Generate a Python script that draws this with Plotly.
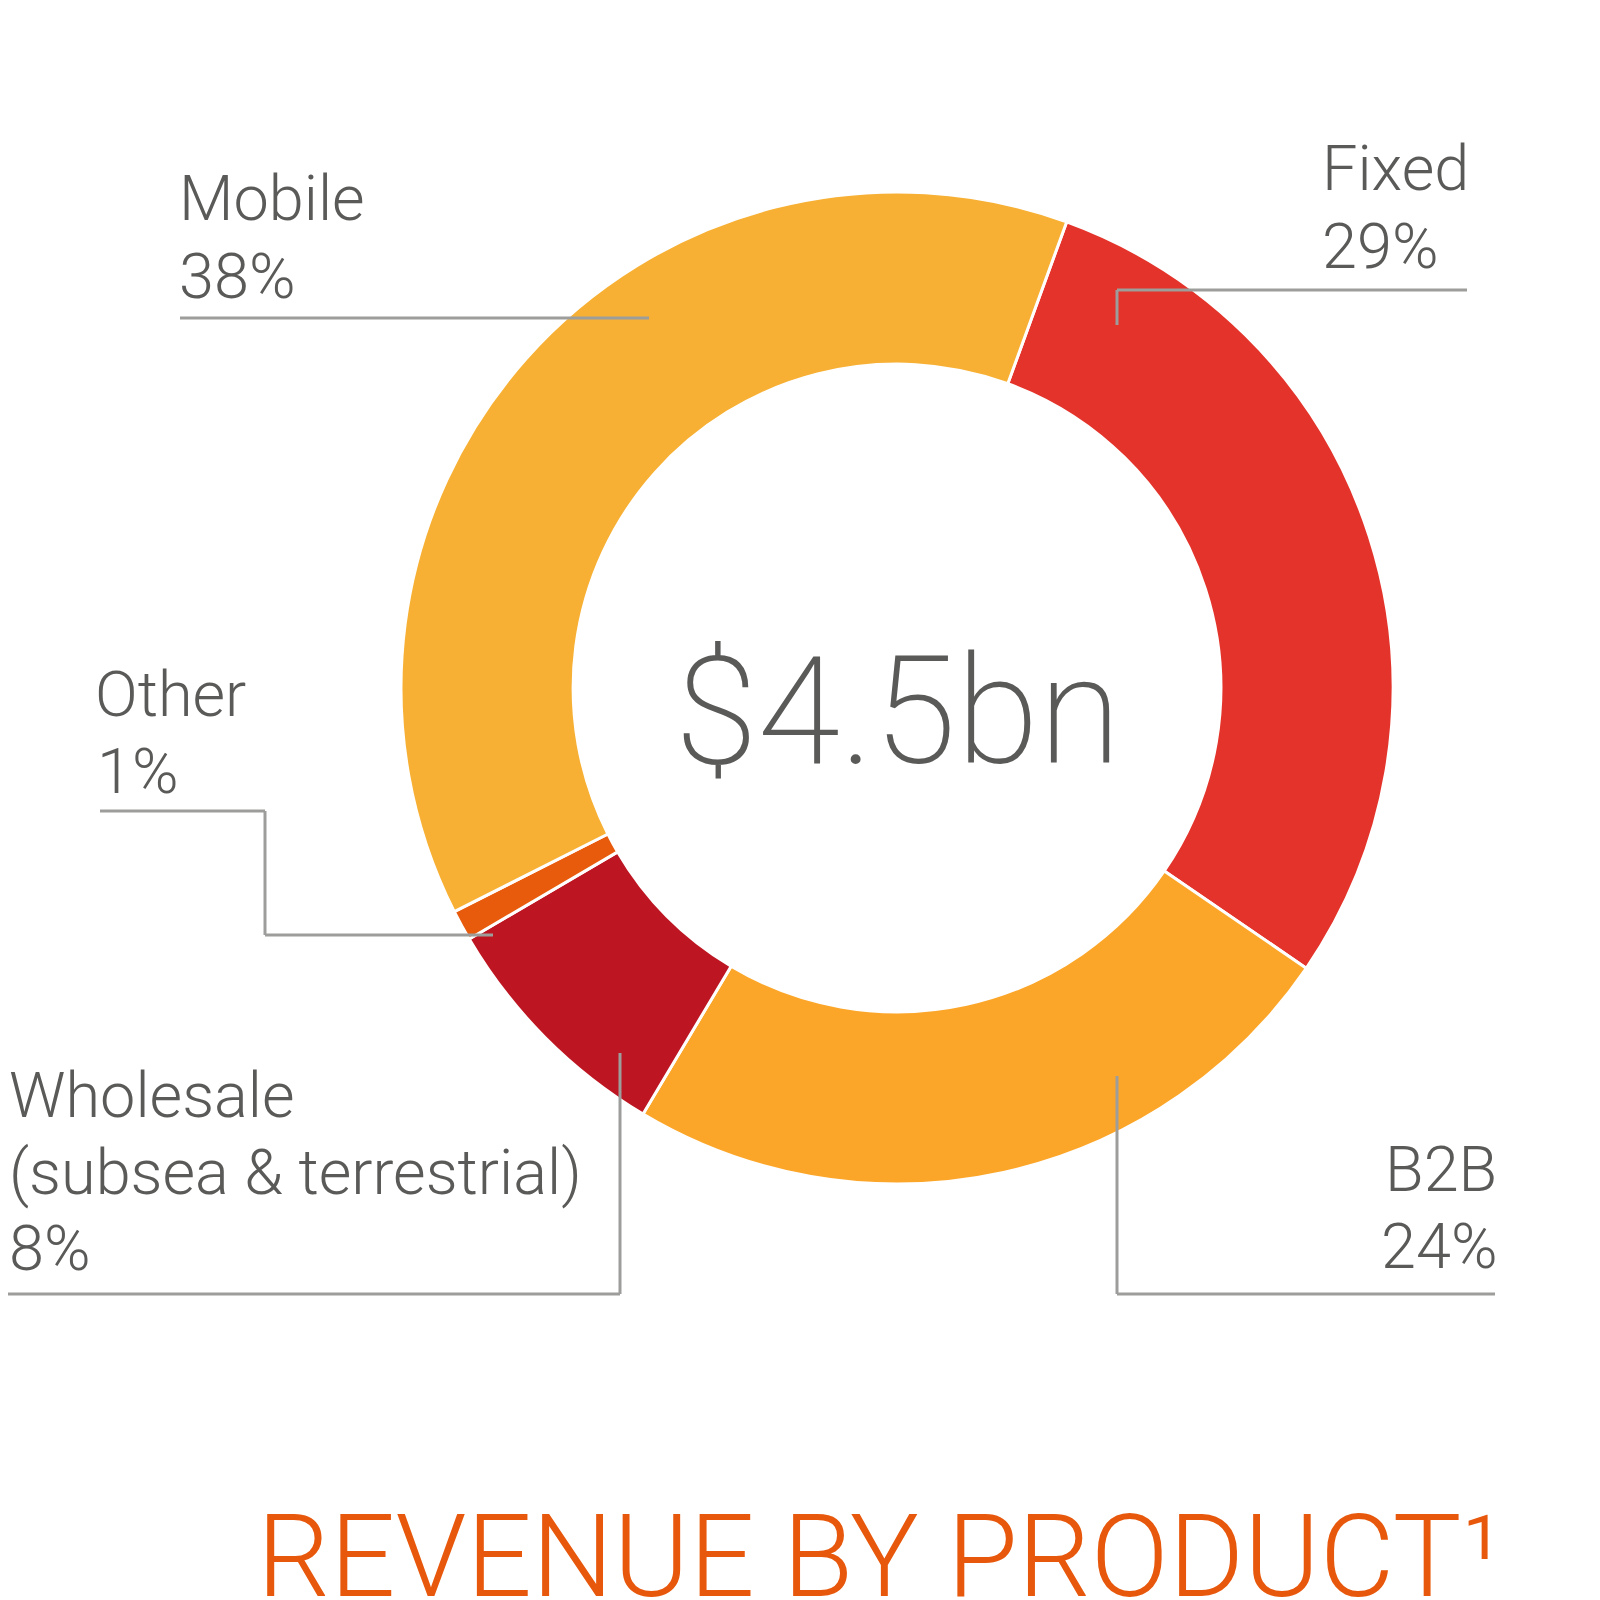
import plotly.graph_objects as go

# slice data, clockwise from the Fixed slice
labels = ["Fixed", "B2B", "Wholesale", "Other", "Mobile"]
values = [29, 24, 8, 1, 38]
colors = ["#E4332A", "#FCA629", "#BD1622", "#E85A0C", "#F7B033"]
sublabels = {"Wholesale": "(subsea & terrestrial)"}
total_text = "$4.5bn"
title_text = "REVENUE BY PRODUCT¹"

W = 1600
H = 1600
GREY = "#5A5A59"
LINE = "#9D9D9C"
FONT = "Roboto"
LABEL_SIZE = 63


def px(x):
    return x / W


def py(y):
    return 1 - y / H


def text_at(fig, text, x, baseline, size, color=GREY, anchor="left", weight=300):
    # put the text so its baseline sits roughly on the given pixel row
    fig.add_annotation(
        text=text, xref="paper", yref="paper",
        x=px(x), y=py(baseline + 0.25 * size),
        xanchor=anchor, yanchor="bottom",
        showarrow=False, borderpad=0,
        font=dict(family=FONT, size=size, color=color, weight=weight),
    )


def leader(fig, points):
    for (x0, y0), (x1, y1) in zip(points[:-1], points[1:]):
        fig.add_shape(type="line", xref="paper", yref="paper",
                      x0=px(x0), y0=py(y0), x1=px(x1), y1=py(y1),
                      line=dict(color=LINE, width=3))


def pct(name):
    return str(values[labels.index(name)]) + "%"


cx, cy, r = 889, 680, 496

fig = go.Figure(go.Pie(
    labels=labels,
    values=values,
    hole=0.653,
    sort=False,
    direction="clockwise",
    rotation=20,
    marker=dict(colors=colors, line=dict(color="white", width=3)),
    textinfo="none",
    hoverinfo="label+percent",
    domain=dict(x=[px(cx - r), px(cx + r)], y=[py(cy + r), py(cy - r)]),
))

# labels
text_at(fig, "Mobile", 170, 212, LABEL_SIZE)
text_at(fig, pct("Mobile"), 170, 290, LABEL_SIZE)
leader(fig, [(172, 310), (641, 310)])

text_at(fig, "Fixed", 1313, 182, LABEL_SIZE)
text_at(fig, pct("Fixed"), 1313, 260, LABEL_SIZE)
leader(fig, [(1109, 317), (1109, 282), (1459, 282)])

text_at(fig, "Other", 86, 708, LABEL_SIZE)
text_at(fig, pct("Other"), 88, 785, LABEL_SIZE)
leader(fig, [(92, 803), (257, 803), (257, 927), (485, 927)])

text_at(fig, "Wholesale", 0, 1109, LABEL_SIZE)
text_at(fig, sublabels["Wholesale"], 0, 1186, LABEL_SIZE)
text_at(fig, pct("Wholesale"), 0, 1262, LABEL_SIZE)
leader(fig, [(612, 1045), (612, 1286), (0, 1286)])

text_at(fig, "B2B", 1490, 1183, LABEL_SIZE, anchor="right")
text_at(fig, pct("B2B"), 1490, 1260, LABEL_SIZE, anchor="right")
leader(fig, [(1109, 1068), (1109, 1286), (1487, 1286)])

# centre total and bottom title
text_at(fig, total_text, 890, 755, 150, anchor="center", weight=200)
text_at(fig, title_text, 248, 1588, 115, color="#E8580C", weight=300)

fig.update_layout(
    width=W, height=H,
    showlegend=False,
    margin=dict(l=0, r=0, t=0, b=0),
    paper_bgcolor="white",
    plot_bgcolor="white",
)

fig.write_html("out.html")
